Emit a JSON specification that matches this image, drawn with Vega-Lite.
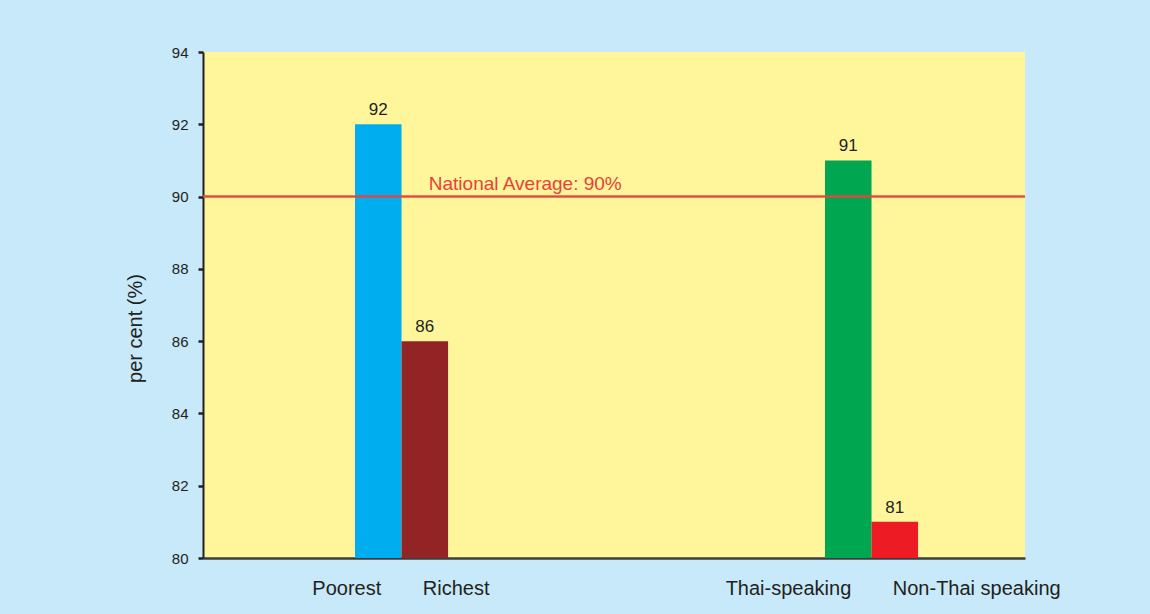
{
  "$schema": "https://vega.github.io/schema/vega-lite/v6.json",
  "width": 822,
  "height": 506,
  "autosize": "none",
  "padding": {"left": 203, "top": 52, "right": 125, "bottom": 56},
  "background": "#c7e9f9",
  "config": {
    "view": {"fill": "#fff69b", "stroke": null},
    "font": "Liberation Sans"
  },
  "data": {
    "values": [
      {"group": "Wealth", "side": "a", "category": "Poorest", "value": 92},
      {"group": "Wealth", "side": "b", "category": "Richest", "value": 86},
      {"group": "Language", "side": "a", "category": "Thai-speaking", "value": 91},
      {"group": "Language", "side": "b", "category": "Non-Thai speaking", "value": 81}
    ]
  },
  "layer": [
    {
      "mark": {"type": "bar"},
      "encoding": {
        "x": {
          "field": "group", "type": "nominal", "sort": ["Wealth", "Language"],
          "scale": {"domain": ["Wealth", "Language"], "paddingInner": 0.802, "paddingOuter": 0.2755, "align": 0.587},
          "axis": {"labels": false, "ticks": false, "title": null, "domainColor": "#3c3c3c", "domainWidth": 2.5}
        },
        "xOffset": {"field": "side", "type": "nominal", "scale": {"domain": ["a", "b"], "paddingInner": 0, "paddingOuter": 0}},
        "y": {
          "field": "value", "type": "quantitative",
          "scale": {"domain": [80, 94], "zero": false, "nice": false},
          "axis": {
            "title": "per cent (%)", "values": [80, 82, 84, 86, 88, 90, 92, 94], "grid": false,
            "domainColor": "#231f20", "domainWidth": 2, "tickColor": "#231f20", "tickWidth": 2.5, "tickSize": 5,
            "labelPadding": 10, "labelFontSize": 15, "labelColor": "#231f20", "labelFont": "Liberation Sans",
            "titleFontSize": 20, "titleFontWeight": "normal", "titleColor": "#231f20", "titleFont": "Liberation Sans",
            "titleX": -68, "titleY": 276, "titleAngle": 270, "titleAlign": "center", "titleBaseline": "middle"
          }
        },
        "y2": {"datum": 80},
        "color": {
          "field": "category", "type": "nominal",
          "scale": {"domain": ["Poorest", "Richest", "Thai-speaking", "Non-Thai speaking"], "range": ["#00aeef", "#922426", "#00a650", "#ed1c24"]},
          "legend": null
        }
      }
    },
    {
      "mark": {"type": "text", "baseline": "alphabetic", "dy": -9, "fontSize": 17, "color": "#231f20"},
      "encoding": {
        "x": {"field": "group", "type": "nominal"},
        "xOffset": {"field": "side", "type": "nominal"},
        "y": {"field": "value", "type": "quantitative"},
        "text": {"field": "value", "type": "quantitative"}
      }
    },
    {
      "mark": {"type": "rule", "color": "#e8453c", "strokeWidth": 1.5},
      "encoding": {"y": {"datum": 90}}
    },
    {
      "data": {"values": [{"group": "Wealth", "side": "b", "label": "National Average: 90%"}]},
      "mark": {"type": "text", "align": "left", "baseline": "alphabetic", "dx": 4, "dy": -7, "fontSize": 19, "color": "#e8413c"},
      "encoding": {
        "x": {"field": "group", "type": "nominal"},
        "xOffset": {"field": "side", "type": "nominal"},
        "y": {"datum": 90},
        "text": {"field": "label", "type": "nominal"}
      }
    },
    {
      "transform": [{"filter": "datum.side == 'a'"}],
      "mark": {"type": "text", "align": "right", "baseline": "alphabetic", "dx": 3, "fontSize": 20, "color": "#231f20"},
      "encoding": {
        "x": {"field": "group", "type": "nominal"},
        "xOffset": {"field": "side", "type": "nominal"},
        "y": {"datum": 78.98},
        "text": {"field": "category", "type": "nominal"}
      }
    },
    {
      "transform": [{"filter": "datum.side == 'b'"}],
      "mark": {"type": "text", "align": "left", "baseline": "alphabetic", "dx": -2, "fontSize": 20, "color": "#231f20"},
      "encoding": {
        "x": {"field": "group", "type": "nominal"},
        "xOffset": {"field": "side", "type": "nominal"},
        "y": {"datum": 78.98},
        "text": {"field": "category", "type": "nominal"}
      }
    }
  ]
}
